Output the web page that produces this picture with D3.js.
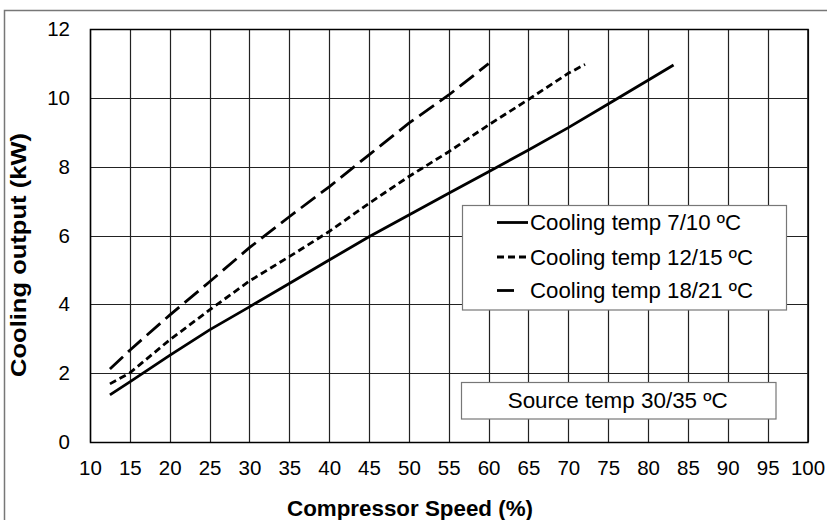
<!DOCTYPE html>
<html><head><meta charset="utf-8">
<script src="https://cdn.jsdelivr.net/npm/d3@7"></script>
<style>body{margin:0;background:#fff}svg{display:block}text{font-family:"Liberation Sans",Arial,sans-serif;fill:#000}</style>
</head><body>
<svg id="c" width="827" height="520"></svg>
<script>
const xTicks = [10,15,20,25,30,35,40,45,50,55,60,65,70,75,80,85,90,95,100];
const yTicks = [0,2,4,6,8,10,12];
const s1x = [12.5,15,20,25,30,35,40,45,50,55,60,65,70,75,80,83.2];
const s1y = [1.37,1.75,2.52,3.26,3.93,4.61,5.29,5.97,6.6,7.23,7.86,8.49,9.14,9.83,10.52,10.96];
const s2x = [12.5,15,20,25,30,35,40,45,50,55,60,65,70,72.1];
const s2y = [1.69,2.01,2.97,3.84,4.68,5.39,6.12,6.94,7.72,8.44,9.22,9.96,10.72,10.98];
const s3x = [12.5,15,20,25,30,35,40,45,50,55,60];
const s3y = [2.12,2.67,3.69,4.66,5.65,6.55,7.42,8.35,9.27,10.09,11.0];
const seriesNames = ["Cooling temp 7/10 ºC","Cooling temp 12/15 ºC","Cooling temp 18/21 ºC"];
const dashes = [null,"7,4","18,7"];
const note = "Source temp 30/35 ºC";
const xTitle = "Compressor Speed (%)";
const yTitle = "Cooling output (kW)";

const svg = d3.select("#c");
const x = d3.scaleLinear().domain([10,100]).range([90,807.5]);
const y = d3.scaleLinear().domain([0,12]).range([442,29.3]);

svg.append("rect").attr("x",4.5).attr("y",10.5).attr("width",840).attr("height",540)
  .attr("fill","#fff").attr("stroke","#777").attr("stroke-width",1.5);

const g = svg.append("g");
g.selectAll(".vg").data(xTicks).join("line")
  .attr("x1",d=>Math.round(x(d))+0.5).attr("x2",d=>Math.round(x(d))+0.5)
  .attr("y1",y(0)).attr("y2",y(12)).attr("stroke","#222").attr("stroke-width",1.2);
g.selectAll(".hg").data(yTicks).join("line")
  .attr("y1",d=>Math.round(y(d))+0.5).attr("y2",d=>Math.round(y(d))+0.5)
  .attr("x1",x(10)).attr("x2",x(100)).attr("stroke","#222").attr("stroke-width",1.2);
g.append("rect").attr("x",x(10)+0.5).attr("y",Math.round(y(12))+0.5)
  .attr("width",x(100)-x(10)).attr("height",Math.round(y(0))-Math.round(y(12)))
  .attr("fill","none").attr("stroke","#000").attr("stroke-width",1.5);

const xa = svg.append("g").attr("transform",`translate(0,${y(0)})`)
  .call(d3.axisBottom(x).tickValues(xTicks).tickSize(0).tickPadding(18));
xa.select(".domain").remove();
xa.selectAll("text").attr("font-size",20.5).attr("font-family","Liberation Sans, Arial");
const ya = svg.append("g").attr("transform",`translate(${x(10)},0)`)
  .call(d3.axisLeft(y).tickValues(yTicks).tickSize(0).tickPadding(20));
ya.select(".domain").remove();
ya.selectAll("text").attr("font-size",20.5).attr("font-family","Liberation Sans, Arial");

const sx=[s1x,s2x,s3x], sy=[s1y,s2y,s3y];
const line = d3.line().x(d=>x(d[0])).y(d=>y(d[1]));
sx.forEach((xs,i)=>{
  const pts = xs.map((v,j)=>[v,sy[i][j]]);
  svg.append("path").attr("d",line(pts)).attr("fill","none").attr("stroke","#000")
    .attr("stroke-width",2.8).attr("stroke-dasharray",dashes[i]);
});

const lg = svg.append("g");
lg.append("rect").attr("x",462.5).attr("y",205.5).attr("width",324).attr("height",104.5)
  .attr("fill","#fff").attr("stroke","#777").attr("stroke-width",1.2);
const rowsY=[222.5,257,290.5];
const legLen=[211,223,223];
seriesNames.forEach((n,i)=>{
  lg.append("line").attr("x1",497).attr("x2",i==2?514:528).attr("y1",rowsY[i]).attr("y2",rowsY[i])
    .attr("stroke","#000").attr("stroke-width",2.8).attr("stroke-dasharray",i==1?"7,4":null);
  lg.append("text").attr("x",530).attr("y",rowsY[i]+7.5).attr("font-size",21.5)
    .attr("textLength",legLen[i]).attr("lengthAdjust","spacingAndGlyphs").text(n);
});

svg.append("rect").attr("x",461.5).attr("y",382.5).attr("width",314.5).attr("height",36.5)
  .attr("fill","#fff").attr("stroke","#777").attr("stroke-width",1.2);
svg.append("text").attr("x",507.7).attr("y",407.5).attr("font-size",21.5)
  .attr("textLength",220).attr("lengthAdjust","spacingAndGlyphs").text(note);

svg.append("text").attr("x",287).attr("y",515.5)
  .attr("font-size",22).attr("font-weight","bold")
  .attr("textLength",246).attr("lengthAdjust","spacingAndGlyphs").text(xTitle);
svg.append("text").attr("transform","translate(26,377) rotate(-90)")
  .attr("font-size",22).attr("font-weight","bold")
  .attr("textLength",244).attr("lengthAdjust","spacingAndGlyphs").text(yTitle);
</script>
</body></html>
